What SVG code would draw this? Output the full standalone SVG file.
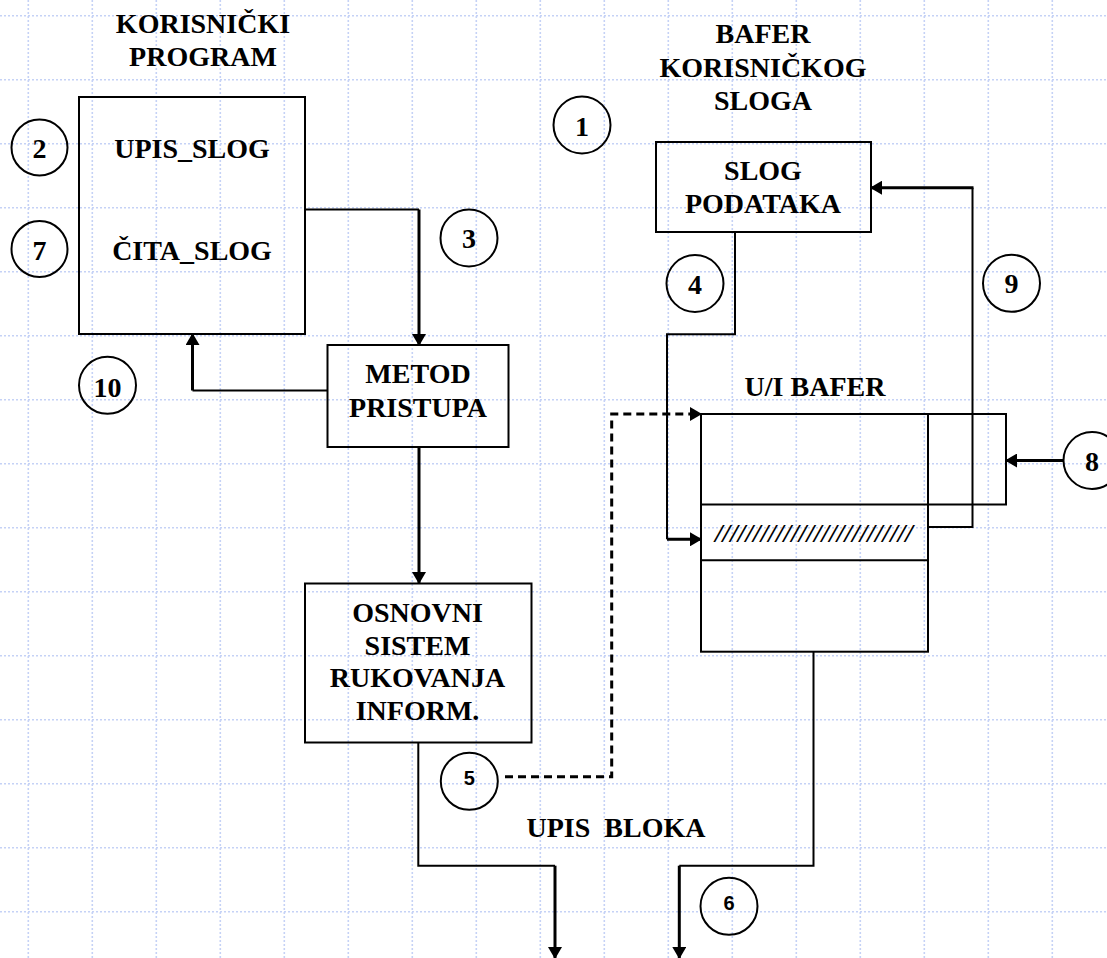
<svg xmlns="http://www.w3.org/2000/svg" width="1107" height="958" viewBox="0 0 1107 958">
<defs>
<style>
.grid{fill:none;stroke:#c5d2f6;stroke-width:1.6;stroke-dasharray:2 2}
.box{fill:none;stroke:#000;stroke-width:2}
.t{font-family:'Liberation Serif','DejaVu Serif',serif;font-weight:700;font-size:28px;fill:#000;text-anchor:middle}
.ts{font-family:'Liberation Sans','DejaVu Sans',sans-serif;font-weight:700;font-size:20px;fill:#000;text-anchor:middle}
.hatch{font-family:'Liberation Serif','DejaVu Serif',serif;font-weight:700;font-style:italic;font-size:26px;fill:#000}
.circ{fill:none;stroke:#000;stroke-width:2}
.thin{fill:none;stroke:#000;stroke-width:2}
.thick{fill:none;stroke:#000;stroke-width:3}
.dash{fill:none;stroke:#000;stroke-width:3;stroke-dasharray:8 5}
</style>
<marker id="ah" viewBox="0 0 12 14" refX="11" refY="7" markerWidth="12" markerHeight="14" markerUnits="userSpaceOnUse" orient="auto">
<path d="M0,0 L12,7 L0,14 z" fill="#000"/>
</marker>
</defs>
<rect width="1107" height="958" fill="#fff"/>
<path class="grid" d="M28.3,0V958M92.3,0V958M156.3,0V958M220.3,0V958M284.3,0V958M348.3,0V958M412.3,0V958M476.3,0V958M540.3,0V958M604.3,0V958M668.3,0V958M732.3,0V958M796.3,0V958M860.3,0V958M924.3,0V958M988.3,0V958M1052.3,0V958M0,15.7H1107M0,79.7H1107M0,143.7H1107M0,207.7H1107M0,271.7H1107M0,335.7H1107M0,399.7H1107M0,463.7H1107M0,527.7H1107M0,591.7H1107M0,655.7H1107M0,719.7H1107M0,783.7H1107M0,847.7H1107M0,911.7H1107"/>

<g id="title-korisnicki">
<text class="t" x="203" y="33" font-family="Liberation Serif, serif">KORISNIČKI</text>
<text class="t" x="203" y="66" font-family="Liberation Serif, serif">PROGRAM</text>
</g>
<g id="title-bafer">
<text class="t" x="763" y="43">BAFER</text>
<text class="t" x="763" y="77">KORISNIČKOG</text>
<text class="t" x="763" y="110">SLOGA</text>
</g>

<g id="connectors">
<path class="thin" d="M305,209.5H419"/>
<path class="thick" d="M419,209.5V345" marker-end="url(#ah)"/>
<path class="thin" d="M327,390.5H192.5"/>
<path class="thick" d="M192.5,390.5V334" marker-end="url(#ah)"/>
<path class="thick" d="M419,447V583" marker-end="url(#ah)"/>
<path class="thin" d="M735,232V334.3H667V539.3"/>
<path class="thick" d="M667,539.3H701" marker-end="url(#ah)"/>
<path class="thin" d="M928,527H972.5V187.7"/>
<path class="thick" d="M973.5,187.7H871" marker-end="url(#ah)"/>
<path class="thick" d="M1063,460.5H1006" marker-end="url(#ah)"/>
<path class="dash" d="M505,776.7H611.7V414H701" marker-end="url(#ah)"/>
<path class="thin" d="M418.3,742.7V865.7H555"/>
<path class="thick" d="M555,865.7V958" marker-end="url(#ah)"/>
<path class="thin" d="M813.5,651.7V865.7H679.3"/>
<path class="thick" d="M679.3,865.7V958" marker-end="url(#ah)"/>
</g>

<g id="korisnicki-program">
<rect class="box" x="79" y="97" width="226" height="237"/>
<text class="t" x="192" y="158">UPIS_SLOG</text>
<text class="t" x="192" y="260">ČITA_SLOG</text>
</g>
<g id="slog-podataka">
<rect class="box" x="656" y="142" width="215" height="90"/>
<text class="t" x="763" y="180">SLOG</text>
<text class="t" x="763" y="213">PODATAKA</text>
</g>
<g id="metod-pristupa">
<rect class="box" x="327.5" y="345" width="181" height="102"/>
<text class="t" x="418" y="383">METOD</text>
<text class="t" x="418" y="417">PRISTUPA</text>
</g>
<g id="osnovni-sistem">
<rect class="box" x="305" y="583.5" width="226.5" height="159"/>
<text class="t" x="417.5" y="622">OSNOVNI</text>
<text class="t" x="417.5" y="654.5">SISTEM</text>
<text class="t" x="417.5" y="687">RUKOVANJA</text>
<text class="t" x="417.5" y="720">INFORM.</text>
</g>
<g id="ui-bafer">
<text class="t" x="815" y="396">U/I BAFER</text>
<rect class="box" x="701" y="414" width="305" height="90.5"/>
<rect class="box" x="701" y="414" width="227" height="237.7"/>
<line class="box" x1="701" y1="560.3" x2="928" y2="560.3"/>
<text class="hatch" x="715" y="542" textLength="198" lengthAdjust="spacingAndGlyphs">//////////////////////////</text>
</g>
<g id="upis-bloka">
<text class="t" x="616" y="837" xml:space="preserve">UPIS  BLOKA</text>
</g>

<g id="n1"><circle class="circ" cx="582" cy="125" r="28.5"/><text class="t" x="582" y="136">1</text></g>
<g id="n2"><circle class="circ" cx="39.5" cy="147.5" r="28"/><text class="t" x="39.5" y="157.5">2</text></g>
<g id="n3"><circle class="circ" cx="469" cy="238" r="28.5"/><text class="t" x="469" y="248">3</text></g>
<g id="n4"><circle class="circ" cx="695" cy="283.5" r="28.5"/><text class="t" x="695" y="294">4</text></g>
<g id="n5"><circle class="circ" cx="469.3" cy="781.3" r="28.5"/><text class="ts" x="469.3" y="785">5</text></g>
<g id="n6"><circle class="circ" cx="729" cy="906.3" r="28.5"/><text class="ts" x="729" y="909.5">6</text></g>
<g id="n7"><circle class="circ" cx="39.5" cy="249" r="28"/><text class="t" x="39.5" y="259.5">7</text></g>
<g id="n8"><circle class="circ" cx="1092" cy="460.5" r="28.5"/><text class="t" x="1092" y="471">8</text></g>
<g id="n9"><circle class="circ" cx="1011.5" cy="283.3" r="28.5"/><text class="t" x="1011.5" y="293">9</text></g>
<g id="n10"><circle class="circ" cx="107.5" cy="385.3" r="28.5"/><text class="t" x="107.5" y="396.5">10</text></g>
</svg>
